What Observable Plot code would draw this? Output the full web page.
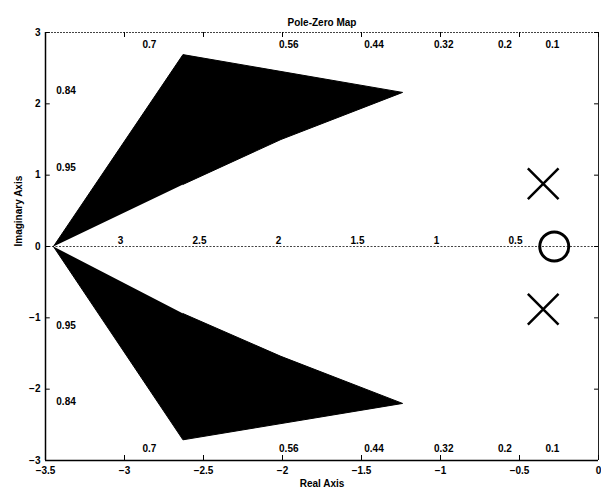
<!DOCTYPE html>
<html>
<head>
<meta charset="utf-8">
<script src="https://cdn.jsdelivr.net/npm/d3@7"></script>
<script src="https://cdn.jsdelivr.net/npm/@observablehq/plot@0.6"></script>
<style>
  html, body { margin: 0; padding: 0; background: #fff; }
  #chart svg { display: block; }
</style>
</head>
<body>
<div id="chart"></div>
<script>
// Axis ticks
const xTicks = [-3.5, -3, -2.5, -2, -1.5, -1, -0.5, 0];
const yTicks = [-3, -2, -1, 0, 1, 2, 3];

// Poles (x) and zero (o)
const poleRe = [-0.35, -0.35];
const poleIm = [0.88, -0.88];
const zeroRe = [-0.28];
const zeroIm = [0];

// Filled regions, upper and lower half-plane (vertex lists)
const upperRe = [-3.45, -2.63, -1.24, -2.01, -2.63];
const upperIm = [0, 2.69, 2.16, 1.50, 0.87];
const lowerRe = [-3.45, -2.63, -1.24, -2.01, -2.63];
const lowerIm = [0, -2.71, -2.20, -1.54, -0.94];

// Grid annotations: damping ratios and natural frequencies
const dampEdge = [0.7, 0.56, 0.44, 0.32, 0.2, 0.1];
const dampSide = [0.84, 0.95];
const natFreq = [3, 2.5, 2, 1.5, 1, 0.5];

const minus = d => String(d).replace("-", "\u2212");
const slope = z => Math.sqrt(1 - z * z) / z; // |Im| / |Re| along a damping line

const shapes = [
  ...upperRe.map((re, i) => ({re, im: upperIm[i], k: "upper"})),
  ...lowerRe.map((re, i) => ({re, im: lowerIm[i], k: "lower"}))
];
const poles = poleRe.map((re, i) => ({re, im: poleIm[i]}));
const zeros = zeroRe.map((re, i) => ({re, im: zeroIm[i]}));

// damping labels where each line meets |Im| = 2.9 (top & bottom) or Re = -3.37 (left)
const edgeLabels = dampEdge.flatMap(z => [
  {re: -2.9 / slope(z), im: 2.83, t: String(z)},
  {re: -2.9 / slope(z), im: -2.84, t: String(z)}
]);
const sideLabels = dampSide.flatMap(z => [
  {re: -3.37, im: 3.37 * slope(z), t: String(z)},
  {re: -3.37, im: -3.37 * slope(z), t: String(z)}
]);
const freqLabels = natFreq.map(w => ({re: -w, im: 0, t: String(w)}));

const chart = Plot.plot({
  width: 601,
  height: 494,
  marginLeft: 45,
  marginRight: 3,
  marginTop: 32,
  marginBottom: 34,
  x: {domain: [-3.5, 0]},
  y: {domain: [-3, 3]},
  style: {
    fontFamily: "'Liberation Sans', Arial, sans-serif",
    fontSize: "10px",
    fontWeight: "bold",
    background: "#fff",
    color: "#000"
  },
  marks: [
    // real axis grid line
    Plot.ruleY([0], {stroke: "#444", strokeWidth: 1, strokeDasharray: "2,1.5"}),
    // filled regions
    Plot.line(shapes, {x: "re", y: "im", z: "k", fill: "#000", stroke: "#000", strokeWidth: 1}),
    // frame
    Plot.ruleY([-3], {stroke: "#000", strokeWidth: 1.5}),
    Plot.ruleY([3], {stroke: "#444", strokeWidth: 1, strokeDasharray: "2,1"}),
    Plot.ruleX([-3.5], {stroke: "#000", strokeWidth: 1.5}),
    Plot.ruleX([0], {stroke: "#222", strokeWidth: 1}),
    // inward ticks
    Plot.ruleX(xTicks, {x: d => d, y1: -3, y2: -2.93, stroke: "#000"}),
    Plot.ruleX(xTicks, {x: d => d, y1: 3, y2: 2.93, stroke: "#000"}),
    Plot.ruleY(yTicks, {y: d => d, x1: -3.5, x2: -3.47, stroke: "#000"}),
    Plot.ruleY(yTicks, {y: d => d, x1: 0, x2: -0.025, stroke: "#000"}),
    // tick labels
    Plot.axisX(xTicks, {anchor: "bottom", tickSize: 0, tickPadding: 6, tickFormat: minus, label: null}),
    Plot.axisY(yTicks, {anchor: "left", tickSize: 0, tickPadding: 5, tickFormat: minus, label: null}),
    // grid annotations
    Plot.text(edgeLabels, {x: "re", y: "im", text: "t"}),
    Plot.text(sideLabels, {x: "re", y: "im", text: "t"}),
    Plot.text(freqLabels, {x: "re", y: "im", text: "t", dx: -4, dy: -6}),
    // poles and zeros
    Plot.dot(poles, {x: "re", y: "im", symbol: "times", r: 14, stroke: "#000", strokeWidth: 2.5}),
    Plot.dot(zeros, {x: "re", y: "im", symbol: "circle", r: 14.5, stroke: "#000", fill: "none", strokeWidth: 3}),
    // titles
    Plot.text(["Pole-Zero Map"], {frameAnchor: "top", dy: -14}),
    Plot.text(["Real Axis"], {frameAnchor: "bottom", dy: 26}),
    Plot.text(["Imaginary Axis"], {frameAnchor: "left", dx: -27, rotate: -90})
  ]
});

document.getElementById("chart").appendChild(chart);
</script>
</body>
</html>
